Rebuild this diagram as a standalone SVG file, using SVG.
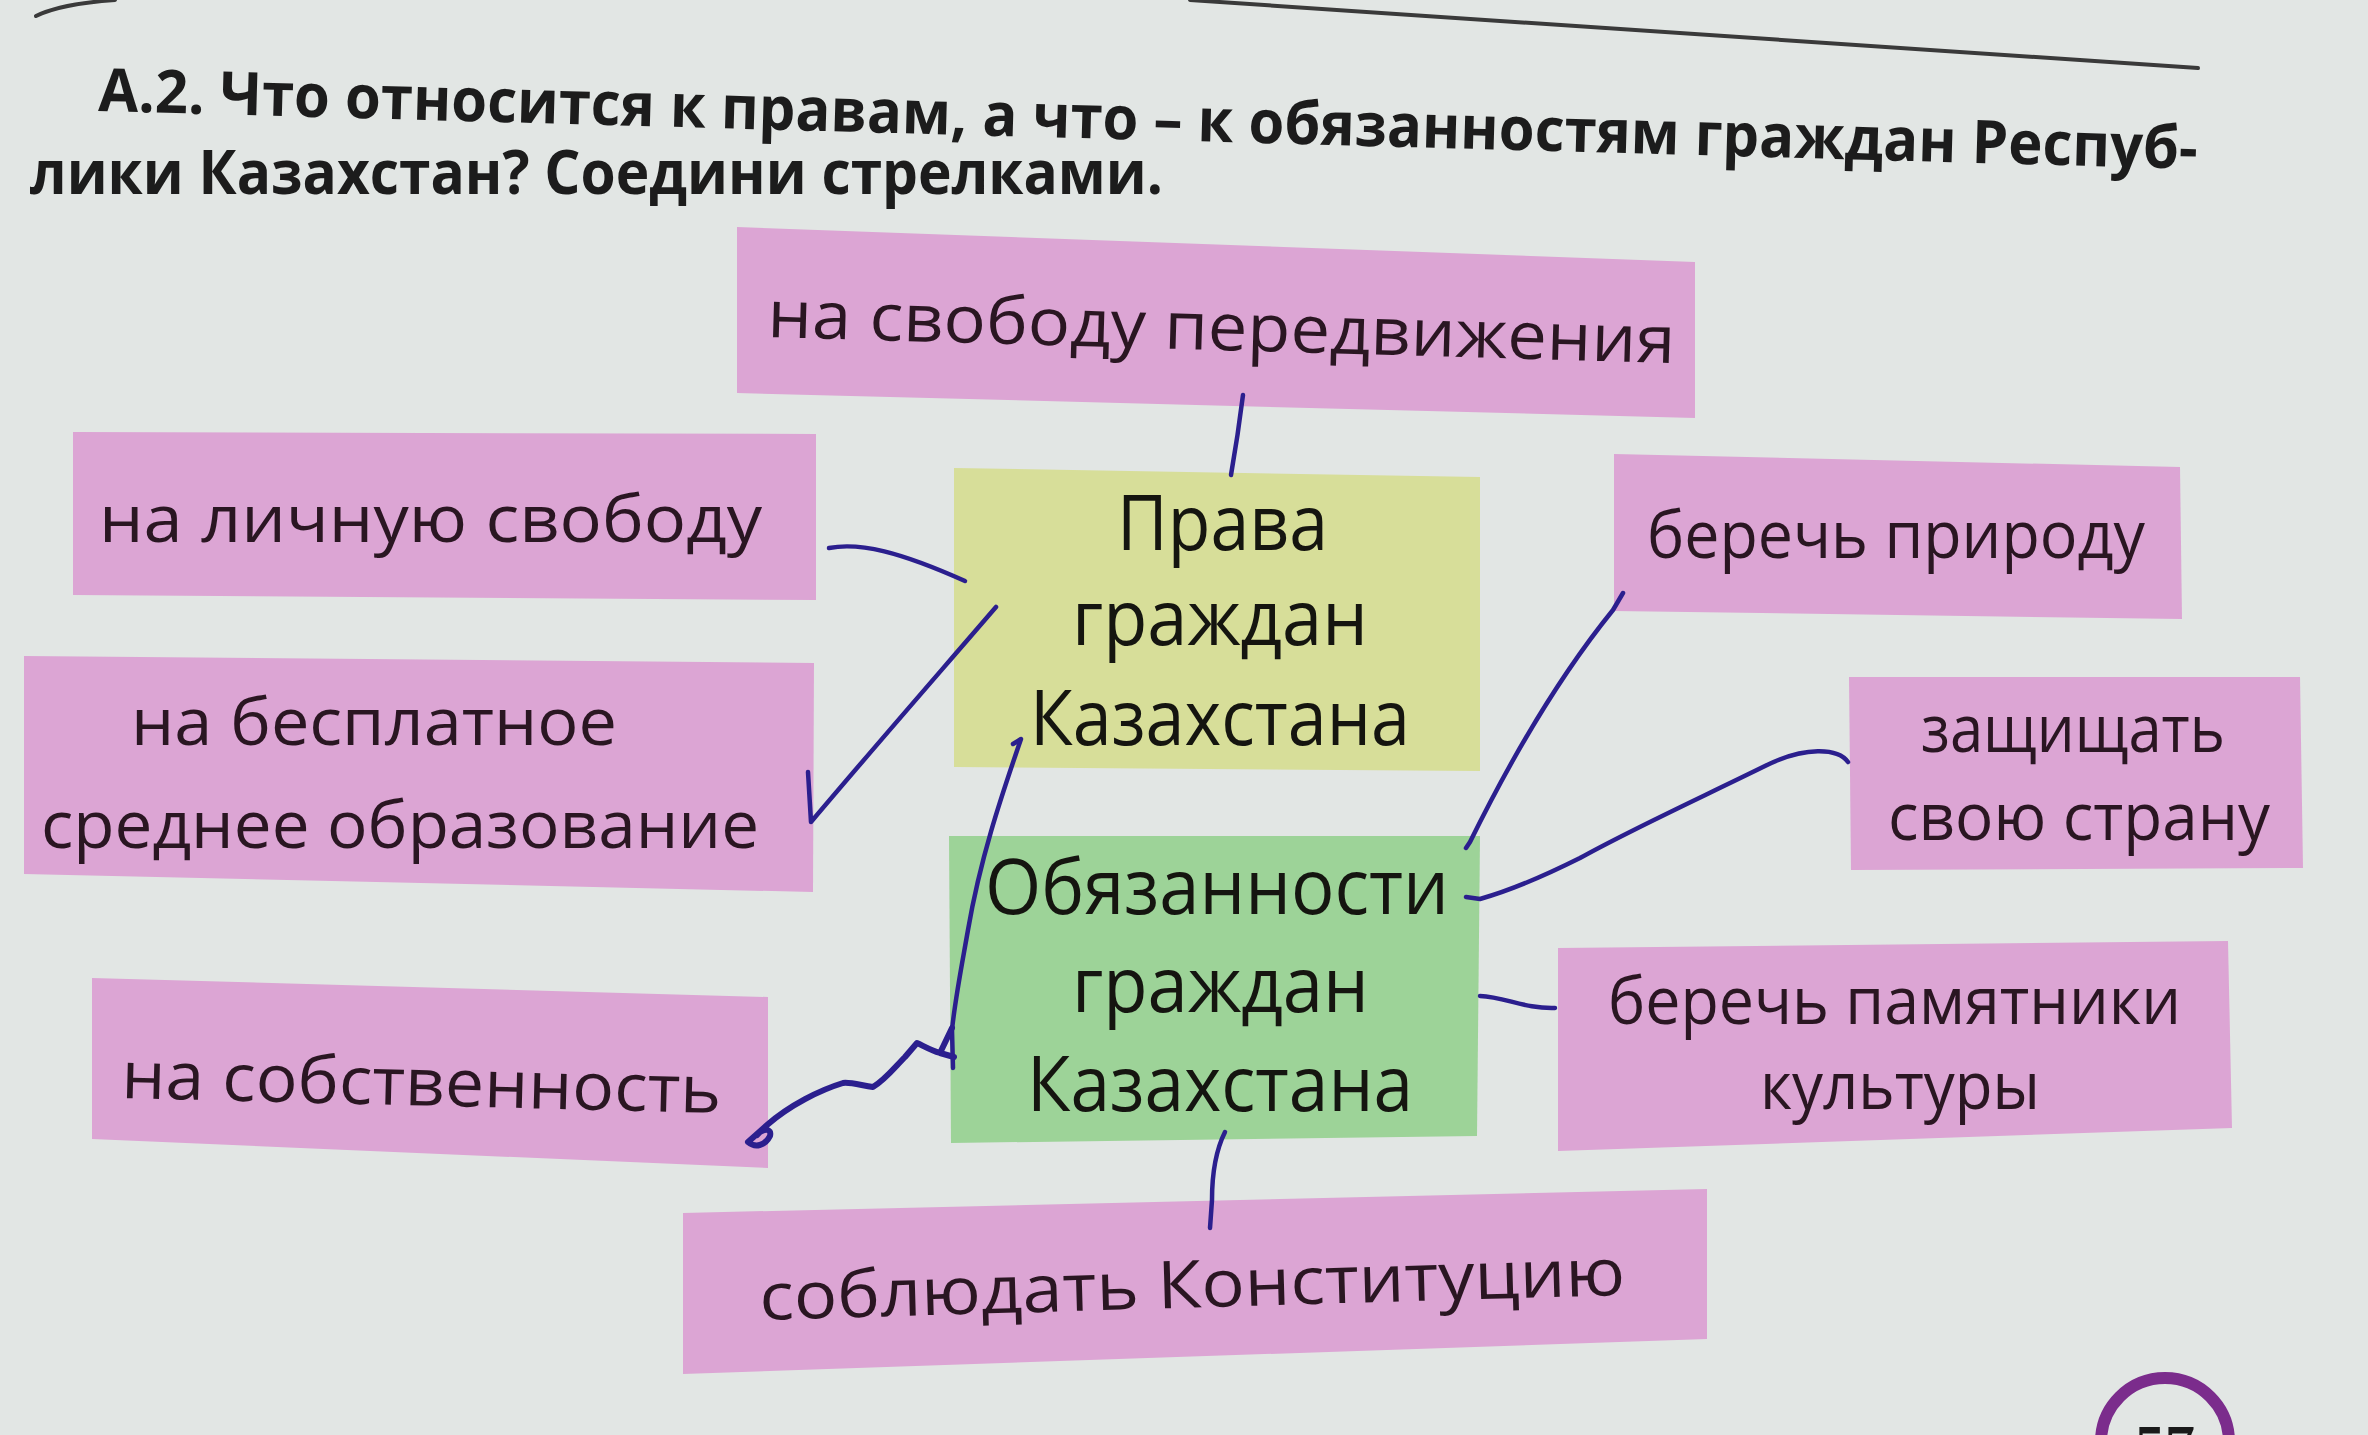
<svg xmlns="http://www.w3.org/2000/svg" width="2368" height="1435" viewBox="0 0 2368 1435">
<style>
.bg{fill:#e2e6e4}
.pink{fill:#dca5d4}
.yg{fill:#d7de99}
.gr{fill:#9dd398}
.lbl{font-family:"Open Sans","Noto Sans","DejaVu Sans",sans-serif;font-size:66px;fill:#2a1622}
.hd{font-family:"Open Sans","Noto Sans","DejaVu Sans",sans-serif;font-size:76px;fill:#151510}
.title{font-family:"Open Sans","Noto Sans","DejaVu Sans",sans-serif;font-weight:bold;font-size:60px;fill:#1c1c1c}
.ink{fill:none;stroke:#2b1f8e;stroke-width:4.5;stroke-linecap:round;stroke-linejoin:round}
.pen{fill:none;stroke:#3a3a3a;stroke-width:4;stroke-linecap:round}
</style>
<rect class="bg" x="0" y="0" width="2368" height="1435"/>

<g id="page-top">
<path class="pen" d="M36,16 Q60,4 115,0"/>
<path class="pen" d="M1190,0 C1450,15 1800,42 2198,68"/>
</g>

<g id="title">
<text class="title" x="98" y="111" textLength="2100" lengthAdjust="spacingAndGlyphs" transform="rotate(1.58 98 111)">А.2. Что относится к правам, а что – к обязанностям граждан Респуб-</text>
<text class="title" x="30" y="194" textLength="1133" lengthAdjust="spacingAndGlyphs">лики Казахстан? Соедини стрелками.</text>
</g>

<g id="node-svoboda-peredvizheniya">
<polygon class="pink" points="737,227 1695,262 1695,418 737,393"/>
<text class="lbl" x="767" y="337" textLength="908" lengthAdjust="spacingAndGlyphs" transform="rotate(1.65 767 337)">на свободу передвижения</text>
</g>

<g id="node-lichnaya-svoboda">
<polygon class="pink" points="73,432 816,434 816,600 73,595"/>
<text class="lbl" x="99" y="542" textLength="663" lengthAdjust="spacingAndGlyphs">на личную свободу</text>
</g>

<g id="node-obrazovanie">
<polygon class="pink" points="24,656 814,663 813,892 24,874"/>
<text class="lbl" x="131" y="745" textLength="486" lengthAdjust="spacingAndGlyphs">на бесплатное</text>
<text class="lbl" x="41" y="848" textLength="718" lengthAdjust="spacingAndGlyphs">среднее образование</text>
</g>

<g id="node-sobstvennost">
<polygon class="pink" points="92,978 768,997 768,1168 92,1139"/>
<text class="lbl" x="121" y="1098" textLength="600" lengthAdjust="spacingAndGlyphs" transform="rotate(1.43 121 1098)">на собственность</text>
</g>

<g id="node-konstituciya">
<polygon class="pink" points="683,1213 1707,1189 1707,1339 683,1374"/>
<text class="lbl" x="760" y="1320" textLength="866" lengthAdjust="spacingAndGlyphs" transform="rotate(-1.66 760 1320)">соблюдать Конституцию</text>
</g>

<g id="node-priroda">
<polygon class="pink" points="1614,454 2180,467 2182,619 1614,611"/>
<text class="lbl" x="1647" y="558" textLength="498" lengthAdjust="spacingAndGlyphs">беречь природу</text>
</g>

<g id="node-zashchishchat">
<polygon class="pink" points="1849,677 2300,677 2303,868 1851,870"/>
<text class="lbl" x="1921" y="752" textLength="304" lengthAdjust="spacingAndGlyphs">защищать</text>
<text class="lbl" x="1888" y="840" textLength="382" lengthAdjust="spacingAndGlyphs">свою страну</text>
</g>

<g id="node-pamyatniki">
<polygon class="pink" points="1558,948 2228,941 2232,1128 1558,1151"/>
<text class="lbl" x="1608" y="1024" textLength="573" lengthAdjust="spacingAndGlyphs">беречь памятники</text>
<text class="lbl" x="1760" y="1109" textLength="280" lengthAdjust="spacingAndGlyphs">культуры</text>
</g>

<g id="node-prava">
<polygon class="yg" points="954,468 1480,477 1480,771 954,767"/>
<text class="hd" x="1117" y="550" textLength="211" lengthAdjust="spacingAndGlyphs">Права</text>
<text class="hd" x="1072" y="645" textLength="296" lengthAdjust="spacingAndGlyphs">граждан</text>
<text class="hd" x="1030" y="745" textLength="380" lengthAdjust="spacingAndGlyphs">Казахстана</text>
</g>

<g id="node-obyazannosti">
<polygon class="gr" points="949,836 1480,836 1477,1136 951,1143"/>
<text class="hd" x="985" y="914" textLength="464" lengthAdjust="spacingAndGlyphs">Обязанности</text>
<text class="hd" x="1072" y="1012" textLength="297" lengthAdjust="spacingAndGlyphs">граждан</text>
<text class="hd" x="1027" y="1111" textLength="386" lengthAdjust="spacingAndGlyphs">Казахстана</text>
</g>

<g id="connectors">
<path class="ink" d="M1243,395 Q1238,435 1231,475"/>
<path class="ink" d="M829,548 C860,542 900,552 965,581"/>
<path class="ink" d="M808,772 L811,822 C870,752 940,672 996,607"/>
<path class="ink" d="M1013,744 L1021,739 C1000,800 980,860 968,930 C960,975 955,1000 952,1030 L953,1068"/>
<path class="ink" style="stroke-width:6" d="M952,1028 L940,1053 L954,1057 M940,1053 C930,1050 922,1045 917,1043 L905,1057 C895,1067 885,1080 873,1087 C860,1085 850,1082 843,1083 C820,1090 790,1105 767,1125 L748,1142 C755,1148 765,1146 770,1136 C772,1128 763,1128 757,1135"/>
<path class="ink" d="M1623,593 L1613,610 Q1540,700 1470,842 L1466,848"/>
<path class="ink" d="M1848,762 C1838,748 1805,746 1765,766 C1700,798 1630,830 1580,858 C1540,878 1505,892 1480,899 L1466,897"/>
<path class="ink" d="M1480,996 C1505,997 1525,1009 1555,1008"/>
<path class="ink" d="M1225,1132 C1216,1150 1212,1175 1212,1200 L1210,1228"/>
</g>

<g id="page-number">
<circle cx="2165" cy="1442" r="64" fill="none" stroke="#7b2c8c" stroke-width="12"/>
<text x="2165" y="1466" text-anchor="middle" style="font-family:'Liberation Serif',serif;font-weight:bold;font-size:60px;fill:#1a1a1a">57</text>
</g>
</svg>
